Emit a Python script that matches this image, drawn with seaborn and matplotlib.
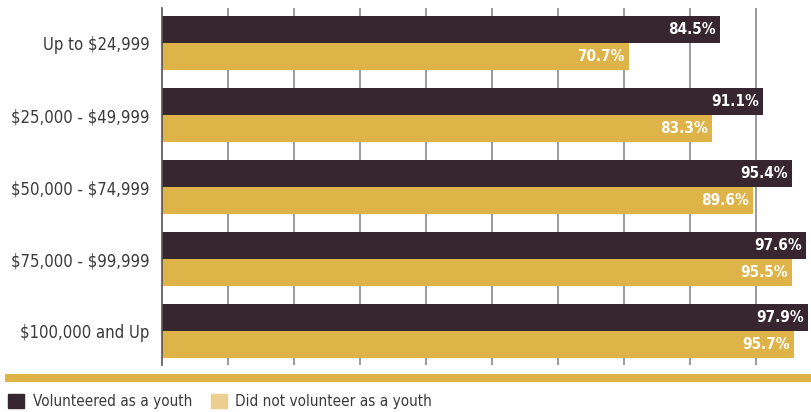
import pandas as pd
import matplotlib.pyplot as plt
import matplotlib.patches as mpatches
import seaborn as sns

# Daten
categories = ['Up to $24,999', '$25,000 - $49,999', '$50,000 - $74,999',
              '$75,000 - $99,999', '$100,000 and Up']
volunteered = [84.5, 91.1, 95.4, 97.6, 97.9]
not_volunteered = [70.7, 83.3, 89.6, 95.5, 95.7]
series = ['Volunteered as a youth', 'Did not volunteer as a youth']

dark = '#37262f'
gold = '#deb448'
gold_light = '#eccf8f'

df = pd.DataFrame({
    'income': categories * 2,
    'pct': volunteered + not_volunteered,
    'group': [series[0]] * 5 + [series[1]] * 5,
})

sns.set_style('white')
plt.rcParams['font.family'] = ['DejaVu Sans']
plt.rcParams['font.stretch'] = 'condensed'
plt.rcParams['text.parse_math'] = False

fig = plt.figure(figsize=(8.12, 4.12), dpi=100)
ax = fig.add_axes([162 / 812, 1 - 365 / 412, 1 - 162 / 812, 357 / 412])

sns.barplot(data=df, y='income', x='pct', hue='group', orient='h',
            palette=[dark, gold], width=0.75, saturation=1, legend=False,
            linewidth=0, ax=ax)

ax.set_xlim(0, 98.5)
ax.set_ylim(4.47, -0.49)
ax.set_xticks(range(10, 100, 10))
ax.xaxis.grid(True, color='#8a8a8a', linewidth=1.2)
ax.set_axisbelow(True)
ax.tick_params(axis='x', labelbottom=False, length=0)
ax.tick_params(axis='y', length=0, pad=9, labelsize=12, labelcolor='#3a3a3a')
ax.set_xlabel('')
ax.set_ylabel('')
for s in ['top', 'right', 'bottom']:
    ax.spines[s].set_visible(False)
ax.spines['left'].set_color('#555555')
ax.spines['left'].set_linewidth(1.2)

# Werte an den Balkenenden
for cont, vals in zip(ax.containers, [volunteered, not_volunteered]):
    for bar, v in zip(cont, vals):
        ax.annotate(f'{v:.1f}%', (bar.get_width(), bar.get_y() + bar.get_height() / 2),
                    xytext=(-3, 0), textcoords='offset points', ha='right', va='center',
                    color='white', fontsize=11, fontweight='bold')

# Goldene Linie unten
fig.add_artist(mpatches.Rectangle((5 / 812, 1 - 382 / 412), 807 / 812, 8 / 412,
                                  transform=fig.transFigure, color=gold, lw=0))

# Legende
handles = [mpatches.Patch(color=dark, label=series[0]),
           mpatches.Patch(color=gold_light, label=series[1])]
fig.legend(handles=handles, loc='lower left', bbox_to_anchor=(2 / 812, -3 / 412), ncol=2,
           frameon=False, fontsize=11, labelcolor='#3a3a3a', handlelength=1.05,
           handleheight=1.05, handletextpad=0.55, columnspacing=1.25, borderaxespad=0,
           borderpad=0.4)

fig.savefig('out.png', dpi=100)
